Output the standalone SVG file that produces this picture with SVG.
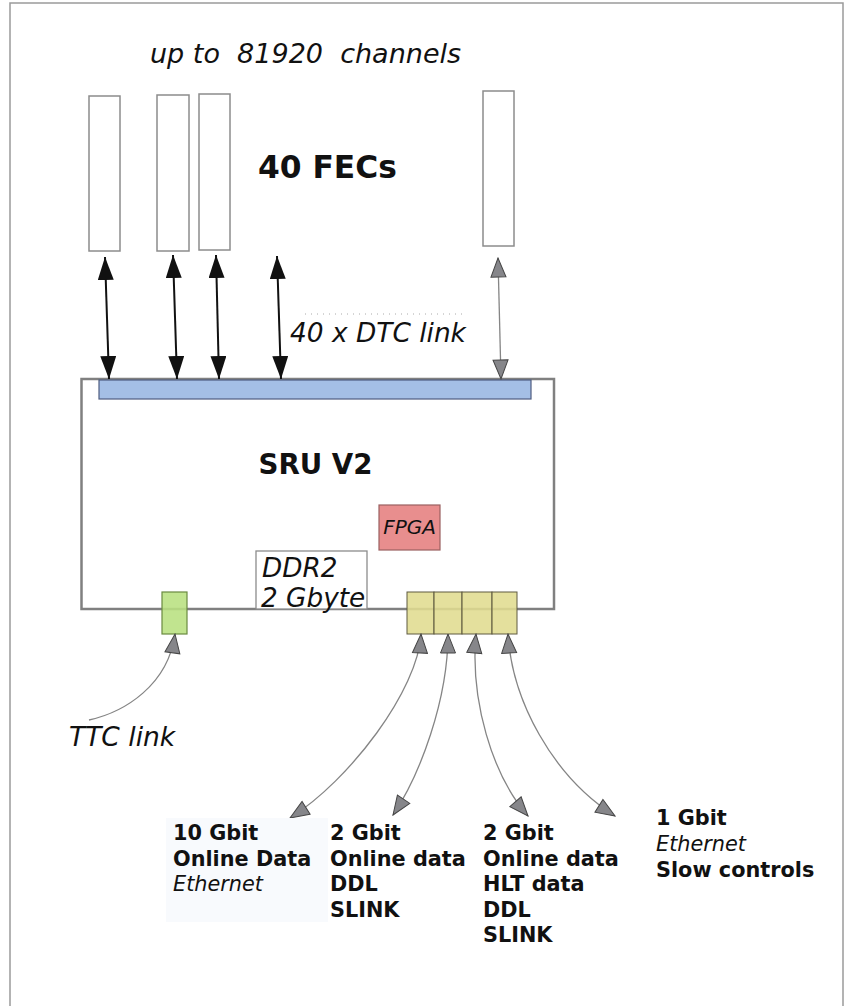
<svg xmlns="http://www.w3.org/2000/svg" width="854" height="1006" viewBox="0 0 854 1006">
<style>
.fec{fill:#fff;stroke:#8c8c8c;stroke-width:1.5}
.it{font-family:"DejaVu Sans",Verdana,sans-serif;font-style:italic;fill:#111}
.bd{font-family:"DejaVu Sans",Verdana,sans-serif;font-weight:bold;fill:#111}
.lbl{font-family:"DejaVu Sans",Verdana,sans-serif;font-size:20.8px;fill:#111}
.blk{stroke:#111;stroke-width:2;fill:none}
.gry{stroke:#858585;stroke-width:1.3;fill:none}
.cell{fill:#e0dc90;stroke:#5e5a40;stroke-width:1}
</style>
<defs>
<marker id="bh" viewBox="0 0 23 16" refX="23" refY="8" markerWidth="23" markerHeight="16" markerUnits="userSpaceOnUse" orient="auto-start-reverse">
<path d="M0,0 L23,8 L0,16 z" fill="#111"/>
</marker>
<marker id="gh" viewBox="-1 -1 21 17" refX="19" refY="7.5" markerWidth="21" markerHeight="17" markerUnits="userSpaceOnUse" orient="auto-start-reverse">
<path d="M0,0 L19,7.5 L0,15 z" fill="#86868a" stroke="#454545" stroke-width="1"/>
</marker>
</defs>
<rect x="10" y="3" width="833" height="1010" fill="#fff" stroke="#9a9a9a" stroke-width="1.5"/>
<text class="it" x="150" y="63" font-size="27" xml:space="preserve">up to  81920  channels</text>
<g id="fec1"><rect class="fec" x="89" y="96" width="31" height="155"/></g>
<g id="fec2"><rect class="fec" x="157" y="95" width="32" height="156"/></g>
<g id="fec3"><rect class="fec" x="199" y="94" width="31" height="156"/></g>
<g id="fec4"><rect class="fec" x="483" y="91" width="31" height="155"/></g>
<text class="bd" x="258" y="178" font-size="31.3">40 FECs</text>
<line x1="305" y1="314" x2="465" y2="314" stroke="#aaa" stroke-width="1" stroke-dasharray="1,5"/>
<text class="it" x="290" y="342" font-size="26.4">40 x DTC link</text>
<g id="sru">
<rect x="81.5" y="379" width="472.5" height="230" fill="#fff" stroke="#808080" stroke-width="2.5"/>
<rect x="99" y="380" width="432" height="19" fill="#a4bfe6" stroke="#4f5d80" stroke-width="1.2"/>
<text class="bd" x="315.5" y="474" font-size="27.7" text-anchor="middle">SRU V2</text>
</g>
<g id="fpga">
<rect x="379" y="505" width="61" height="45" fill="#e88e8e" stroke="#9a6060" stroke-width="1.2"/>
<text class="it" x="409.5" y="534" font-size="20" text-anchor="middle">FPGA</text>
</g>
<g id="ddr2">
<rect x="256" y="551" width="111" height="58" fill="#fff" stroke="#8c8c8c" stroke-width="1.3"/>
<text class="it" x="262" y="577" font-size="26.3">DDR2</text>
<text class="it" x="261" y="607" font-size="26.3">2 Gbyte</text>
</g>
<g id="ttc">
<rect x="162" y="592" width="25" height="42" fill="#b8e080" fill-opacity="0.88" stroke="#6a8a40" stroke-width="1.2"/>
</g>
<g id="ports" fill-opacity="0.88">
<rect class="cell" x="407" y="592" width="27" height="42"/>
<rect class="cell" x="434" y="592" width="28" height="42"/>
<rect class="cell" x="462" y="592" width="30" height="42"/>
<rect class="cell" x="492" y="592" width="25" height="42"/>
</g>
<g id="connectors">
<line class="blk" x1="105" y1="257" x2="109" y2="379" marker-start="url(#bh)" marker-end="url(#bh)"/>
<line class="blk" x1="173" y1="255" x2="177" y2="379" marker-start="url(#bh)" marker-end="url(#bh)"/>
<line class="blk" x1="216" y1="255" x2="219" y2="379" marker-start="url(#bh)" marker-end="url(#bh)"/>
<line class="blk" x1="277" y1="256" x2="281" y2="379" marker-start="url(#bh)" marker-end="url(#bh)"/>
<line class="gry" x1="498" y1="258" x2="501" y2="379" marker-start="url(#gh)" marker-end="url(#gh)"/>
<path class="gry" d="M89 720 C125 712 168 685 175 634" marker-end="url(#gh)"/>
<path class="gry" d="M421 634 C418 690 350 780 290 818" marker-start="url(#gh)" marker-end="url(#gh)"/>
<path class="gry" d="M448 634 C448 700 420 775 393 815" marker-start="url(#gh)" marker-end="url(#gh)"/>
<path class="gry" d="M476 634 C470 700 492 775 528 816" marker-start="url(#gh)" marker-end="url(#gh)"/>
<path class="gry" d="M508 634 C512 700 552 776 615 816" marker-start="url(#gh)" marker-end="url(#gh)"/>
</g>
<text class="it" x="69" y="746" font-size="26.5">TTC link</text>
<g id="lbl10g">
<rect x="166" y="818" width="162" height="104" fill="#f8fafd"/>
<text class="lbl" x="173" y="840"><tspan font-weight="bold">10 Gbit</tspan><tspan x="173" dy="25.5" font-weight="bold">Online Data</tspan><tspan x="173" dy="25.5" font-style="italic">Ethernet</tspan></text>
</g>
<g id="lbl2g">
<text class="lbl" x="330" y="840" font-weight="bold"><tspan>2 Gbit</tspan><tspan x="330" dy="25.5">Online data</tspan><tspan x="330" dy="25.5">DDL</tspan><tspan x="330" dy="25.5">SLINK</tspan></text>
</g>
<g id="lbl2gb">
<text class="lbl" x="483" y="840" font-weight="bold"><tspan>2 Gbit</tspan><tspan x="483" dy="25.5">Online data</tspan><tspan x="483" dy="25.5">HLT data</tspan><tspan x="483" dy="25.5">DDL</tspan><tspan x="483" dy="25.5">SLINK</tspan></text>
</g>
<g id="lbl1g">
<text class="lbl" x="656" y="825"><tspan font-weight="bold">1 Gbit</tspan><tspan x="656" dy="26" font-style="italic">Ethernet</tspan><tspan x="656" dy="26" font-weight="bold">Slow controls</tspan></text>
</g>
</svg>
